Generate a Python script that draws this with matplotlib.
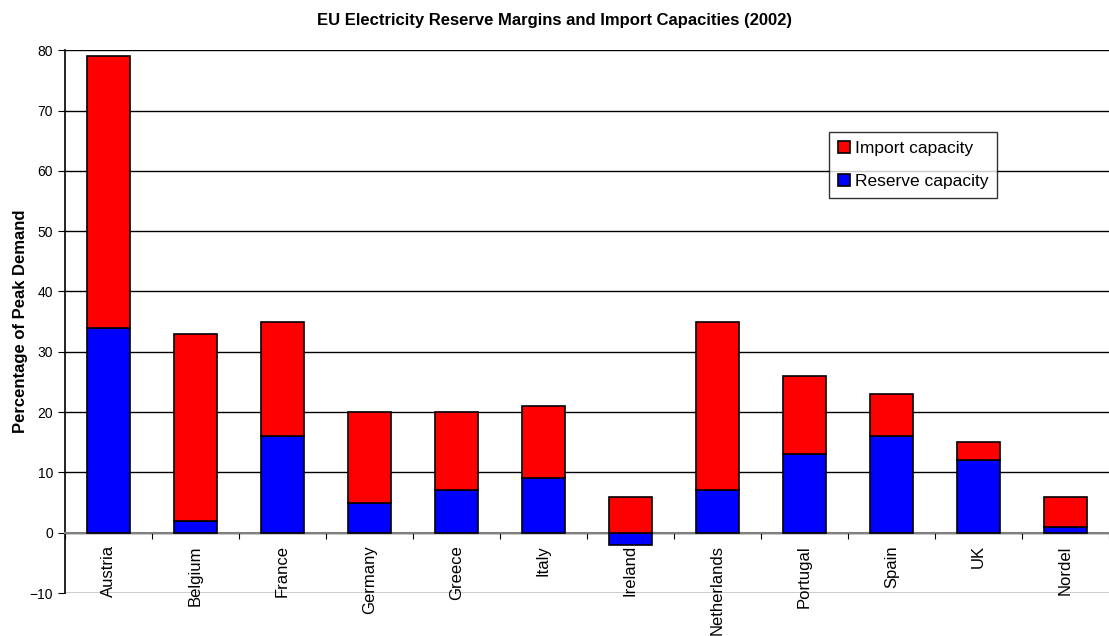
import numpy as np
import matplotlib
matplotlib.use('Agg')
import matplotlib.pyplot as plt

plt.rcParams['font.family'] = ['Liberation Sans', 'DejaVu Sans']

# Data
countries = ['Austria', 'Belgium', 'France', 'Germany', 'Greece', 'Italy',
             'Ireland', 'Netherlands', 'Portugal', 'Spain', 'UK', 'Nordel']
reserve = [34, 2, 16, 5, 7, 9, -2, 7, 13, 16, 12, 1]
imports = [45, 31, 19, 15, 13, 12, 6, 28, 13, 7, 3, 5]

fig = plt.figure(figsize=(11.09, 6.36), dpi=100)
ax = fig.add_axes([0.0586, 0.0676, 0.9414, 0.8534])

x = np.arange(len(countries))
# negative reserve stacks below zero, so import starts at max(reserve, 0)
base = np.maximum(reserve, 0)
ax.bar(x, reserve, width=0.5, color='#0000ff', edgecolor='black', linewidth=1.2,
       label='Reserve capacity', zorder=3)
ax.bar(x, imports, width=0.5, bottom=base, color='#ff0000', edgecolor='black',
       linewidth=1.2, label='Import capacity', zorder=3)

ax.set_xlim(-0.5, len(countries) - 0.5)
ax.set_ylim(-10, 80)
ax.set_yticks(np.arange(-10, 81, 10))
ax.yaxis.grid(True, color='black', linewidth=1)
ax.set_axisbelow(True)

# x-axis line at zero with ticks between categories
ax.spines['bottom'].set_position(('data', 0))
ax.spines['bottom'].set_color('#808080')
ax.spines['bottom'].set_linewidth(1.5)
ax.spines['top'].set_visible(False)
ax.spines['right'].set_visible(False)
ax.spines['left'].set_color('black')
ax.spines['left'].set_linewidth(1.2)
ax.set_xticks(np.arange(len(countries) + 1) - 0.5)
ax.set_xticklabels([])
ax.tick_params(axis='x', which='major', length=4, direction='out', color='black')
ax.set_xticks(x, minor=True)
ax.set_xticklabels(countries, minor=True, rotation=90, fontsize=12)
ax.tick_params(axis='x', which='minor', length=0, pad=9)
ax.tick_params(axis='y', length=5, labelsize=10)

ax.set_ylabel('Percentage of Peak Demand', fontsize=12, fontweight='bold', labelpad=1)
fig.suptitle('EU Electricity Reserve Margins and Import Capacities (2002)',
             fontsize=12, fontweight='bold', y=0.98)

handles, labels = ax.get_legend_handles_labels()
leg = ax.legend(handles[::-1], labels[::-1], loc='upper left',
                bbox_to_anchor=(0.732, 0.849), fontsize=12.5, frameon=True,
                fancybox=False, edgecolor='black', handlelength=0.7,
                handleheight=0.7, handletextpad=0.3, labelspacing=1.05,
                borderpad=0.5, borderaxespad=0)
leg.get_frame().set_linewidth(1)

plt.savefig('out.png', dpi=100)
plt.close()
